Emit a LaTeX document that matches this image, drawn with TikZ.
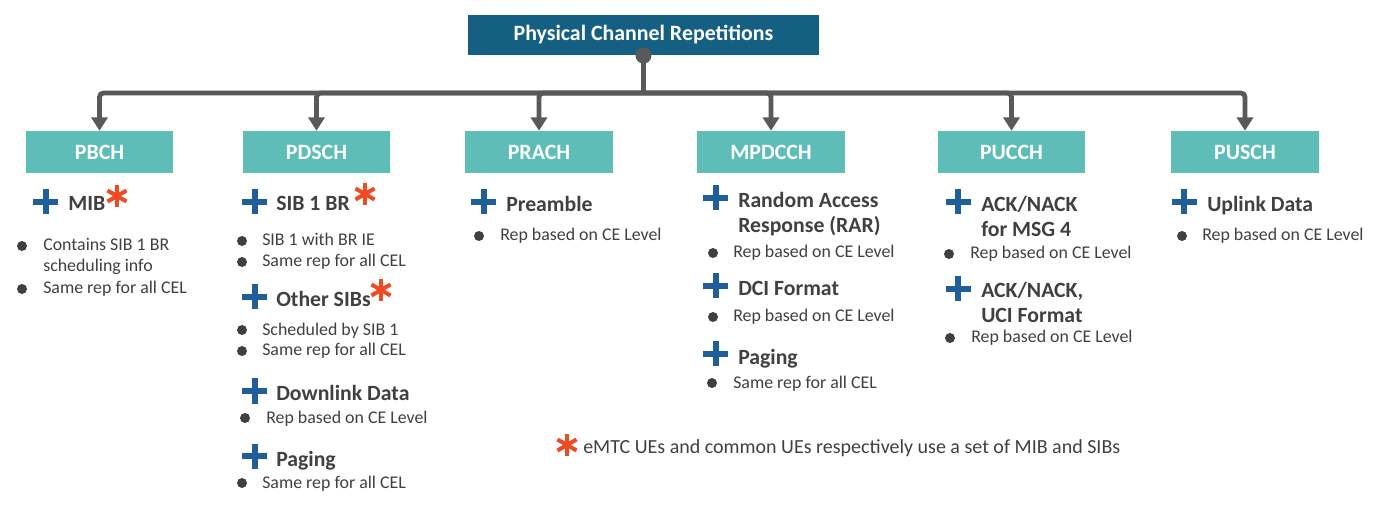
\documentclass[tikz,border=0pt]{standalone}
\usepackage{fontspec}
\setmainfont{Carlito}
\usetikzlibrary{positioning, arrows.meta}

\definecolor{titleblue}{HTML}{156082}
\definecolor{chanteal}{HTML}{5EBEB7}
\definecolor{plusblue}{HTML}{1F5D9B}
\definecolor{starred}{HTML}{F04A23}
\definecolor{textgray}{HTML}{404040}
\definecolor{linegray}{HTML}{595959}

\begin{document}
\begin{tikzpicture}[
    x=0.75pt, y=-0.75pt,
    titlebox/.style={rectangle, fill=titleblue, text=white, font=\bfseries\fontsize{16.4}{19}\selectfont,
        minimum width=263pt, minimum height=30.5pt, inner sep=0pt},
    chanbox/.style={rectangle, fill=chanteal, text=white, font=\bfseries\fontsize{16.4}{19}\selectfont,
        minimum width=110.5pt, minimum height=31.5pt, inner sep=0pt},
    item/.style={anchor=base west, inner sep=0pt, align=left, text=textgray,
        font=\bfseries\fontsize{16.3}{18.75}\selectfont},
    bullettext/.style={anchor=base west, inner sep=0pt, align=left, text=textgray,
        font=\fontsize{13.4}{15.75}\selectfont},
    note/.style={anchor=base west, inner sep=0pt, text=textgray, font=\fontsize{15}{17}\selectfont},
    conn/.style={draw=linegray, line width=3.6pt},
    arrow/.style={conn, rounded corners=3pt, -{Triangle[width=12pt, length=10pt]}},
    plusicon/.pic={\fill[plusblue] (-12.5,-3) rectangle (12.5,3);
        \fill[plusblue] (-3,-12.5) rectangle (3,12.5);},
    asterisk/.pic={\foreach \a in {90,30,150}
        \draw[starred, line width=3pt] (\a:11) -- (\a+180:11);}
]
\useasboundingbox (0,0) rectangle (1375,513);

% title and channels
\node[titlebox] (title) at (643.5,35) {Physical Channel Repetitions};
\node[chanbox] (pbch) at (99.5,152) {PBCH};
\node[chanbox] (pdsch) at (316.5,152) {PDSCH};
\node[chanbox] (prach) at (539,152) {PRACH};
\node[chanbox] (mpdcch) at (771,152) {MPDCCH};
\node[chanbox] (pucch) at (1011.5,152) {PUCCH};
\node[chanbox] (pusch) at (1245,152) {PUSCH};

\coordinate (bar) at (643.5,93);
\draw[conn] (title.south) -- (bar);
\fill[linegray] (title.south) circle (8);
\foreach \ch in {pbch, pdsch, prach, mpdcch, pucch, pusch}
    \draw[arrow] (bar) -| (\ch.north);

% plus signs and asterisks
\foreach \px/\py in {45.5/202, 254.5/202, 254.5/297, 254.5/391, 254.5/456, 483.5/202,
        715.5/198, 715.5/286, 715.5/354, 958/202, 958/289, 1184/202}
    \pic at (\px,\py) {plusicon};
\foreach \sx/\sy in {117/196, 365/194, 381/290, 567/445}
    \pic at (\sx,\sy) {asterisk};

% bullets
\foreach \bx/\by in {22/246, 22/289, 242/241, 242/262, 242/330, 242/351, 245/418, 242/483,
        479/236, 713/253, 713/317, 712/383, 949/254, 950/338, 1182/236}
    \fill[textgray] (\bx,\by) circle (5);

% PBCH
\node[item] (mib) at (68,211) {MIB};
\node[bullettext] (mib1) at (43,272) {Contains SIB 1 BR\\scheduling info};
\node[bullettext] (mib2) at (43,294) {Same rep for all CEL};

% PDSCH
\node[item] (sib1) at (276,211) {SIB 1 BR};
\node[bullettext] (sib1a) at (262,246) {SIB 1 with BR IE};
\node[bullettext] (sib1b) at (262,267) {Same rep for all CEL};
\node[item] (osib) at (276,307) {Other SIBs};
\node[bullettext] (osiba) at (262,335) {Scheduled by SIB 1};
\node[bullettext] (osibb) at (262,356) {Same rep for all CEL};
\node[item] (dldata) at (276,400) {Downlink Data};
\node[bullettext] (dldataa) at (266,423) {Rep based on CE Level};
\node[item] (dpaging) at (276,466) {Paging};
\node[bullettext] (dpaginga) at (262,488) {Same rep for all CEL};

% PRACH
\node[item] (pream) at (506,212) {Preamble};
\node[bullettext] (preama) at (500,241) {Rep based on CE Level};

% MPDCCH
\node[item] (rar) at (738,233) {Random Access\\Response (RAR)};
\node[bullettext] (rara) at (733,258) {Rep based on CE Level};
\node[item] (dci) at (738,296) {DCI Format};
\node[bullettext] (dcia) at (733,322) {Rep based on CE Level};
\node[item] (mpaging) at (738,364) {Paging};
\node[bullettext] (mpaginga) at (733,388) {Same rep for all CEL};

% PUCCH
\node[item] (ackmsg) at (981,237) {ACK/NACK\\for MSG 4};
\node[bullettext] (ackmsga) at (970,259) {Rep based on CE Level};
\node[item] (ackuci) at (981,323) {ACK/NACK,\\UCI Format};
\node[bullettext] (ackucia) at (971,343) {Rep based on CE Level};

% PUSCH
\node[item] (uldata) at (1207,212) {Uplink Data};
\node[bullettext] (uldataa) at (1202,241) {Rep based on CE Level};

% footnote
\node[note] (footnote) at (583,453) {eMTC UEs and common UEs respectively use a set of MIB and SIBs};
\end{tikzpicture}
\end{document}
